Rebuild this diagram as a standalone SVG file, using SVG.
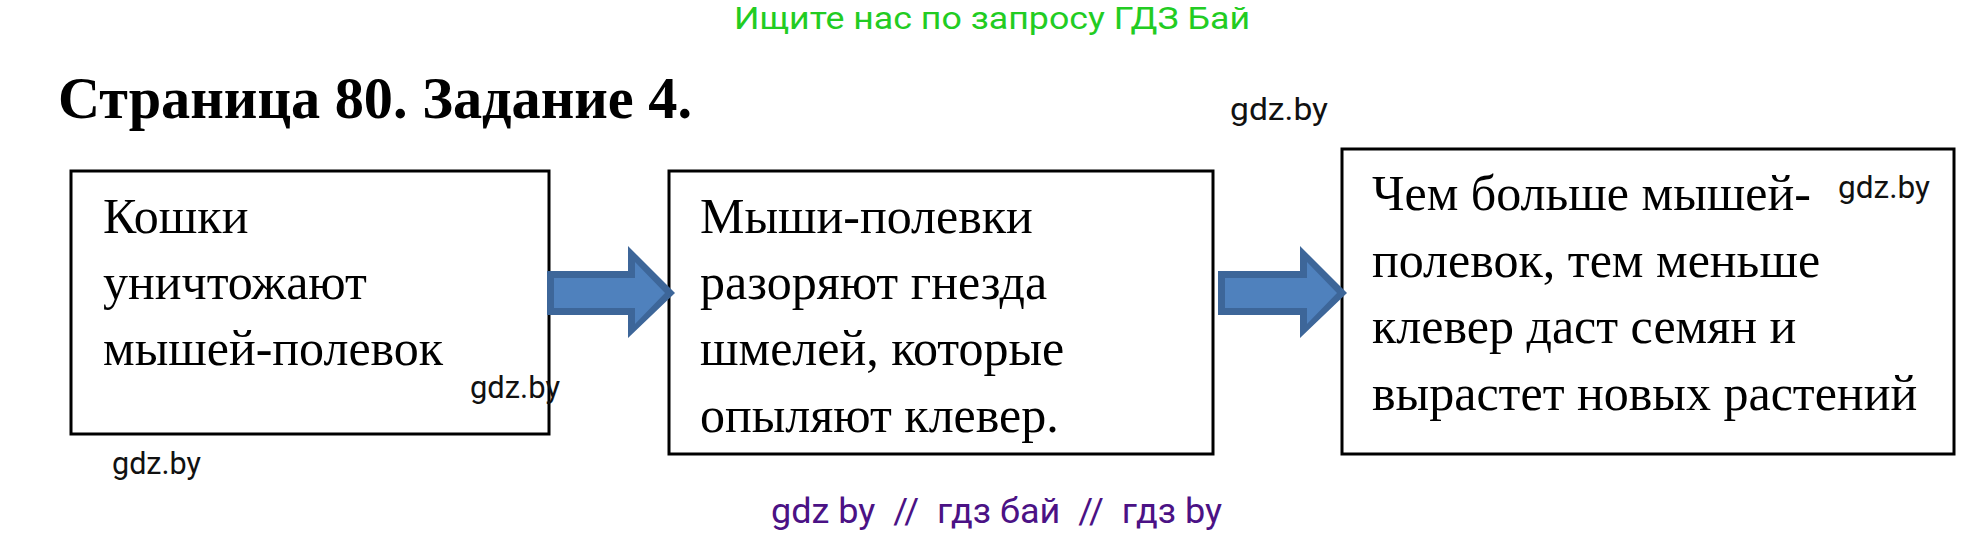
<svg xmlns="http://www.w3.org/2000/svg" width="1988" height="534" viewBox="0 0 1988 534">
<style>
.box{fill:#fff;stroke:#000;stroke-width:3}
.t{font-family:"Liberation Serif","Times New Roman",serif;font-size:50px;fill:#000}
.wm{font-family:Roboto,"Liberation Sans",sans-serif;font-size:31px;fill:#111}
.arOut{fill:#3d6699}
.arIn{fill:#4f81bd}
</style>
<rect width="1988" height="534" fill="#fff"/>
<text x="734" y="29" font-family="Roboto,'Liberation Sans',sans-serif" font-size="32" fill="#22cc22" textLength="516" lengthAdjust="spacingAndGlyphs">Ищите нас по запросу ГДЗ Бай</text>
<text x="58" y="118" font-family="'Liberation Serif','Times New Roman',serif" font-weight="bold" font-size="59" fill="#000" textLength="634" lengthAdjust="spacingAndGlyphs">Страница 80. Задание 4.</text>
<text class="wm" x="1230" y="120" textLength="98" lengthAdjust="spacingAndGlyphs">gdz.by</text>
<g id="node1">
<rect class="box" x="71" y="171" width="478" height="263"/>
<text class="t" x="103" y="233">Кошки</text>
<text class="t" x="103" y="299">уничтожают</text>
<text class="t" x="103" y="365">мышей-полевок</text>
</g>
<g id="node2">
<rect class="box" x="669" y="171" width="544" height="283"/>
<text class="t" x="700" y="233">Мыши-полевки</text>
<text class="t" x="700" y="299">разоряют гнезда</text>
<text class="t" x="700" y="365">шмелей, которые</text>
<text class="t" x="700" y="432">опыляют клевер.</text>
</g>
<g id="node3">
<rect class="box" x="1342" y="149" width="612" height="305"/>
<text class="t" x="1372" y="210">Чем больше мышей-</text>
<text class="t" x="1372" y="277">полевок, тем меньше</text>
<text class="t" x="1372" y="343">клевер даст семян и</text>
<text class="t" x="1372" y="410">вырастет новых растений</text>
</g>
<g id="connectors">
<polygon class="arOut" points="547,271 628,271 628,246 675,293 628,338 628,315 547,315"/>
<polygon class="arIn" points="554,278 635,278 635,262 665,293 635,324 635,308 554,308"/>
<polygon class="arOut" points="1218,271 1300,271 1300,246 1347,293 1300,338 1300,315 1218,315"/>
<polygon class="arIn" points="1225,278 1307,278 1307,262 1337,293 1307,324 1307,308 1225,308"/>
</g>
<text class="wm" x="470" y="398" textLength="90" lengthAdjust="spacingAndGlyphs">gdz.by</text>
<text class="wm" x="112" y="474" textLength="89" lengthAdjust="spacingAndGlyphs">gdz.by</text>
<text class="wm" x="1838" y="198" textLength="92" lengthAdjust="spacingAndGlyphs">gdz.by</text>
<text x="771" y="523" font-family="Roboto,'Liberation Sans',sans-serif" font-size="35" fill="#4b1285" xml:space="preserve" textLength="451" lengthAdjust="spacingAndGlyphs">gdz by  //  гдз бай  //  гдз by</text>
</svg>
